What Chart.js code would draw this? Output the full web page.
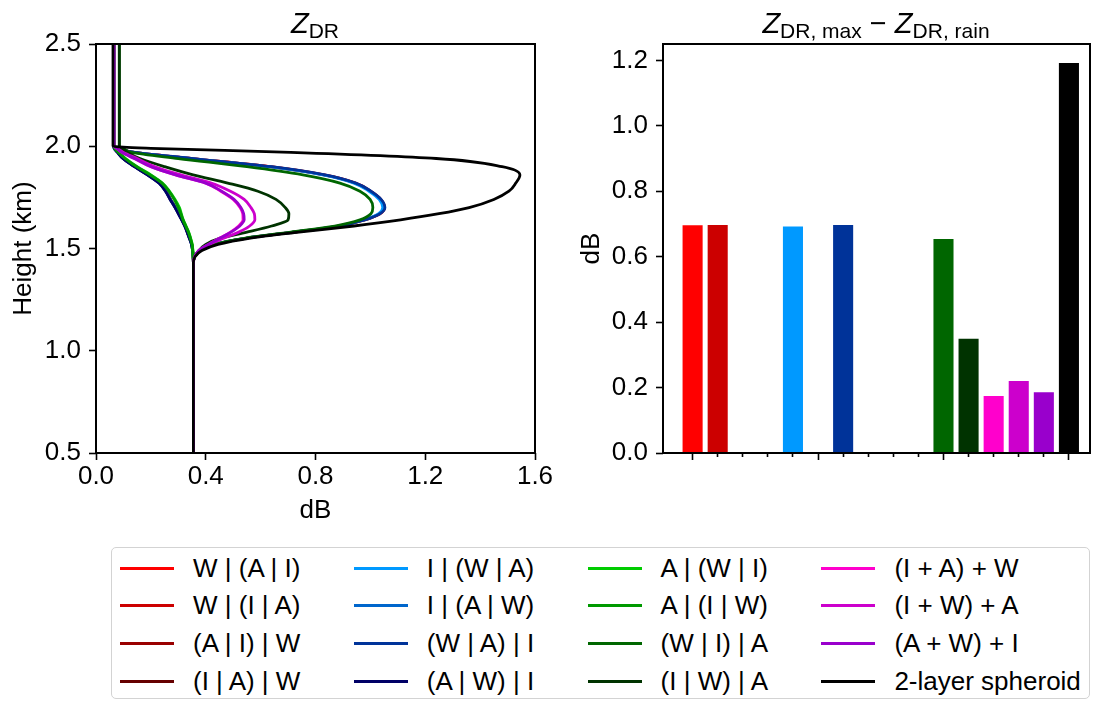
<!DOCTYPE html>
<html>
<head>
<meta charset="utf-8">
<script src="https://cdn.jsdelivr.net/npm/chart.js@4.4.0/dist/chart.umd.min.js"></script>
<style>
  html, body { margin: 0; padding: 0; background: #fff; }
  body { width: 1095px; height: 703px; position: relative; overflow: hidden;
         font-family: "Liberation Sans", Arial, sans-serif; color: #000; }
  #leftBox { position: absolute; left: 0; top: 0; width: 560px; height: 540px; }
  #rightBox { position: absolute; left: 560px; top: 0; width: 535px; height: 540px; }
  .title { position: absolute; top: 6px; font-size: 29px; line-height: 34px;
           transform: translateX(-50%); white-space: nowrap; }
  .title i { font-style: italic; }
  .title sub { font-size: 21px; vertical-align: -5px; line-height: 0; }
  #legend { position: absolute; left: 111px; top: 547px; width: 979px; height: 152px;
            border: 1.5px solid #d3d3d3; border-radius: 5px; box-sizing: border-box; }
  .item { position: absolute; height: 30px; display: flex; align-items: center;
          font-size: 26px; white-space: nowrap; }
  .item .line { display: inline-block; width: 54px; height: 3px; margin-right: 19px; }
</style>
</head>
<body>
<div id="leftBox"><canvas id="profile"></canvas></div>
<div id="rightBox"><canvas id="bars"></canvas></div>
<div class="title" style="left:315px"><i>Z</i><sub>DR</sub></div>
<div class="title" style="left:876px"><i>Z</i><sub>DR, max</sub> &minus; <i>Z</i><sub>DR, rain</sub></div>
<div id="legend"></div>
<script>
// series names and colours (legend order)
const seriesNames = [
  "W | (A | I)", "W | (I | A)", "(A | I) | W", "(I | A) | W",
  "I | (W | A)", "I | (A | W)", "(W | A) | I", "(A | W) | I",
  "A | (W | I)", "A | (I | W)", "(W | I) | A", "(I | W) | A",
  "(I + A) + W", "(I + W) + A", "(A + W) + I", "2-layer spheroid"
]
const seriesColors = [
  "#ff0000", "#cc0000", "#990000", "#660000",
  "#0099ff", "#0066cc", "#003399", "#000066",
  "#00cc00", "#009900", "#006600", "#003300",
  "#ff00cc", "#cc00cc", "#9900cc", "#000000"
]

// vertical profiles: height (km) and ZDR (dB) at each height
const heights = [2.5, 2.0, 1.99, 1.97, 1.94, 1.9, 1.86, 1.82, 1.78, 1.74, 1.7,
                 1.67, 1.64, 1.61, 1.58, 1.55, 1.52, 1.49, 1.46, 1.43, 0.5]
const zdrWAI  = [0.065,0.065,0.08,0.14,0.35,0.635,0.83,0.945,1.0,1.037,1.051,1.034,0.978,0.885,0.72,0.545,0.43,0.38,0.36,0.355,0.355]
const zdrWIA  = [0.065,0.065,0.08,0.141,0.352,0.637,0.832,0.946,1.001,1.038,1.052,1.035,0.979,0.887,0.72,0.545,0.43,0.38,0.36,0.355,0.355]
const zdrAIW  = [0.065,0.065,0.067,0.08,0.1,0.142,0.19,0.232,0.256,0.272,0.29,0.302,0.314,0.325,0.333,0.341,0.349,0.352,0.354,0.355,0.355]
const zdrIAW  = [0.065,0.065,0.067,0.079,0.099,0.141,0.189,0.231,0.255,0.271,0.289,0.301,0.313,0.324,0.333,0.341,0.349,0.352,0.354,0.355,0.355]
const zdrIWA  = [0.065,0.065,0.08,0.14,0.345,0.63,0.826,0.94,0.995,1.032,1.045,1.03,0.975,0.882,0.718,0.545,0.43,0.38,0.36,0.355,0.355]
const zdrIAW2 = [0.065,0.065,0.066,0.079,0.099,0.141,0.188,0.23,0.254,0.271,0.289,0.301,0.313,0.324,0.333,0.341,0.348,0.352,0.354,0.355,0.355]
const zdrWAI2 = [0.065,0.065,0.08,0.142,0.355,0.64,0.835,0.947,1.002,1.039,1.053,1.035,0.98,0.89,0.722,0.545,0.43,0.38,0.36,0.355,0.355]
const zdrAWI  = [0.065,0.065,0.066,0.078,0.098,0.14,0.187,0.229,0.253,0.27,0.288,0.3,0.312,0.323,0.332,0.34,0.348,0.352,0.354,0.355,0.355]
const zdrAWI2 = [0.065,0.065,0.068,0.083,0.108,0.15,0.2,0.242,0.268,0.288,0.304,0.311,0.318,0.328,0.338,0.345,0.351,0.353,0.354,0.355,0.355]
const zdrAIW2 = [0.065,0.065,0.068,0.082,0.106,0.148,0.197,0.24,0.266,0.285,0.3,0.309,0.317,0.327,0.337,0.344,0.35,0.353,0.354,0.355,0.355]
const zdrWIA2 = [0.085,0.085,0.1,0.13,0.3,0.55,0.754,0.889,0.962,0.999,1.009,1.002,0.962,0.87,0.71,0.54,0.43,0.38,0.36,0.355,0.355]
const zdrIWA2 = [0.085,0.085,0.095,0.115,0.16,0.25,0.354,0.48,0.59,0.656,0.69,0.703,0.7,0.64,0.55,0.45,0.4,0.375,0.36,0.355,0.355]
const zdrIAplusW = [0.065,0.065,0.075,0.095,0.14,0.2,0.29,0.4,0.455,0.5,0.525,0.535,0.536,0.52,0.49,0.45,0.41,0.375,0.36,0.355,0.355]
const zdrIWplusA = [0.065,0.065,0.078,0.1,0.15,0.215,0.31,0.42,0.49,0.54,0.565,0.577,0.579,0.56,0.52,0.465,0.415,0.378,0.36,0.355,0.355]
const zdrAWplusI = [0.065,0.065,0.075,0.094,0.14,0.2,0.29,0.4,0.458,0.503,0.528,0.538,0.54,0.524,0.492,0.45,0.41,0.375,0.36,0.355,0.355]
const zdrSpheroid = [0.062,0.062,0.2,0.71,1.24,1.48,1.545,1.53,1.505,1.45,1.36,1.25,1.11,0.94,0.74,0.558,0.445,0.386,0.361,0.355,0.355]

const profiles = [zdrWAI, zdrWIA, zdrAIW, zdrIAW, zdrIWA, zdrIAW2, zdrWAI2, zdrAWI,
                  zdrAWI2, zdrAIW2, zdrWIA2, zdrIWA2, zdrIAplusW, zdrIWplusA, zdrAWplusI, zdrSpheroid]

// ZDR,max - ZDR,rain per series (null = no bar)
const zdrExcess = [0.696, 0.697, null, null, 0.692, null, 0.697, null,
                   null, null, 0.654, 0.349, 0.1745, 0.22, 0.186, 1.192]

Chart.defaults.font.family = '"Liberation Sans", Arial, sans-serif'
Chart.defaults.font.size = 26
Chart.defaults.color = "#000"
Chart.defaults.animation = false

const frame = {
  id: "frame",
  afterDraw(chart) {
    const { ctx, chartArea: a } = chart
    ctx.save()
    ctx.strokeStyle = "#000"
    ctx.lineWidth = 2
    ctx.strokeRect(a.left, a.top, a.right - a.left, a.bottom - a.top)
    ctx.restore()
  },
}

const tickGrid = {
  display: true,
  drawOnChartArea: false,
  drawTicks: true,
  offset: false,
  tickLength: 7,
  tickColor: "#000",
  tickWidth: 1.6,
}

new Chart(document.getElementById("profile"), {
  type: "line",
  plugins: [frame],
  data: {
    datasets: profiles.map((p, i) => ({
      label: seriesNames[i],
      data: heights.map((h, j) => ({ x: p[j], y: h })),
      borderColor: seriesColors[i],
      borderWidth: 2.8,
      pointRadius: 0,
      cubicInterpolationMode: "monotone",
      fill: false,
      order: profiles.length - i, // later series drawn on top, as in the original
    })),
  },
  options: {
    indexAxis: "y",
    responsive: true,
    maintainAspectRatio: false,
    layout: { padding: { top: 44, right: 25, left: 0, bottom: 0 } },
    plugins: { legend: { display: false }, tooltip: { enabled: false } },
    scales: {
      x: {
        type: "linear",
        position: "bottom",
        min: 0,
        max: 1.6,
        grid: tickGrid,
        border: { display: false },
        ticks: { stepSize: 0.4, padding: 1, callback: (v) => v.toFixed(1) },
        title: { display: true, text: "dB", padding: { top: 0, bottom: 14 } },
        afterFit: (s) => { s.height = 87 },
      },
      y: {
        type: "linear",
        position: "left",
        min: 0.5,
        max: 2.5,
        grid: tickGrid,
        border: { display: false },
        ticks: { stepSize: 0.5, padding: 8, callback: (v) => v.toFixed(1) },
        title: { display: true, text: "Height (km)", padding: { top: 8, bottom: 0 } },
        afterFit: (s) => { s.width = 96 },
      },
    },
  },
})

new Chart(document.getElementById("bars"), {
  type: "bar",
  plugins: [frame],
  data: {
    datasets: [{
      data: zdrExcess.map((v, i) => ({ x: i, y: v })),
      backgroundColor: seriesColors,
      categoryPercentage: 1,
      barPercentage: 0.8,
    }],
  },
  options: {
    responsive: true,
    maintainAspectRatio: false,
    layout: { padding: { top: 44, right: 5, left: 0, bottom: 0 } },
    plugins: { legend: { display: false }, tooltip: { enabled: false } },
    scales: {
      x: {
        type: "linear",
        offset: false,
        min: -1.18,
        max: 15.84,
        grid: {
          ...tickGrid,
          tickBorderDash: (c) => (c.tick && c.tick.value % 5 === 0 ? [] : [4, 30]),
        },
        border: { display: false },
        ticks: { stepSize: 1, display: false, includeBounds: false },
        afterBuildTicks: (s) => {
          s.ticks = s.ticks.filter((t) => t.value >= 0 && t.value < seriesNames.length)
        },
        afterFit: (s) => { s.height = 87 },
      },
      y: {
        min: 0,
        max: 1.25,
        grid: tickGrid,
        border: { display: false },
        ticks: { stepSize: 0.2, padding: 8, includeBounds: false, callback: (v) => v.toFixed(1) },
        title: { display: true, text: "dB", padding: { top: 16, bottom: 0 } },
        afterFit: (s) => { s.width = 103 },
      },
    },
  },
})

// legend, four columns filled top to bottom
const legend = document.getElementById("legend")
seriesNames.forEach((name, i) => {
  const col = Math.floor(i / 4)
  const row = i % 4
  const item = document.createElement("div")
  item.className = "item"
  item.style.left = 8 + col * 233.8 + "px"
  item.style.top = 5 + row * 37.8 + "px"
  const line = document.createElement("span")
  line.className = "line"
  line.style.background = seriesColors[i]
  item.appendChild(line)
  item.appendChild(document.createTextNode(name))
  legend.appendChild(item)
})
</script>
</body>
</html>
